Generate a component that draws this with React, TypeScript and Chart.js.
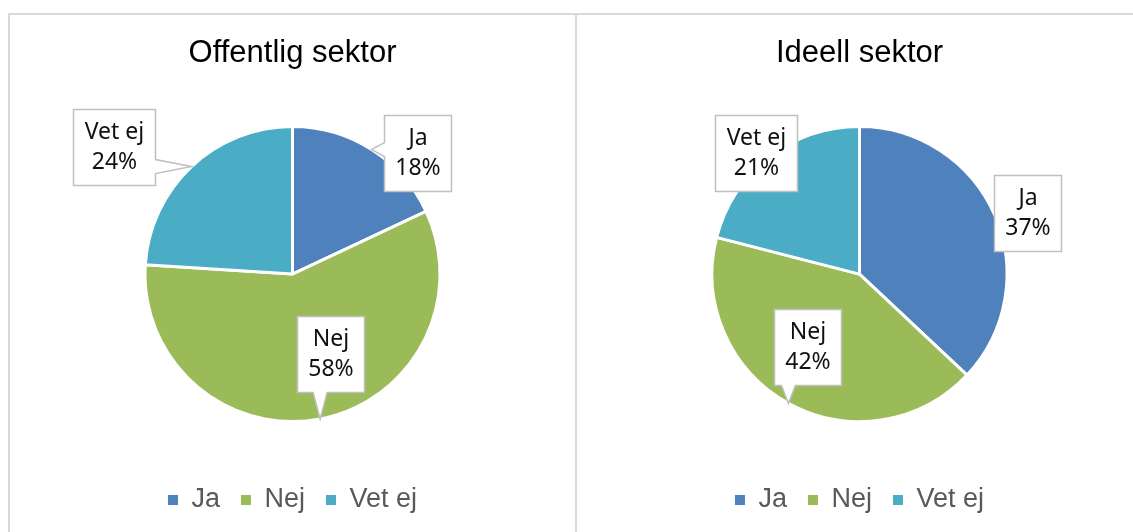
import React, { useEffect, useRef } from "react";
import { Chart, registerables } from "chart.js";

Chart.register(...registerables);

// ---- data ----
const categories = ["Ja", "Nej", "Vet ej"];
const offentligValues = [18, 58, 24];
const ideellValues = [37, 42, 21];
const offentligTitle = "Offentlig sektor";
const ideellTitle = "Ideell sektor";

// ---- styles / placement ----
const sliceColors = ["#4F81BD", "#9BBB59", "#4BACC6"];
// label box centres relative to the pie centre, in units of the pie radius
const offentligLabelOffsets = [
  [0.85, -0.82],
  [0.26, 0.54],
  [-1.21, -0.865],
];
const ideellLabelOffsets = [
  [1.14, -0.415],
  [-0.351, 0.497],
  [-0.705, -0.823],
];

const LABEL_FONT = '23px "Noto Sans"';

function clamp(v: number, lo: number, hi: number) {
  return Math.max(lo, Math.min(hi, v));
}

function calloutPath(
  ctx: CanvasRenderingContext2D,
  l: number,
  t: number,
  r: number,
  b: number,
  tx: number,
  ty: number
) {
  const half = 7;
  const margin = 4;
  const outL = l - tx;
  const outR = tx - r;
  const outT = t - ty;
  const outB = ty - b;
  const maxOut = Math.max(outL, outR, outT, outB);
  const show = maxOut > 6;
  ctx.beginPath();
  ctx.moveTo(l, t);
  if (show && maxOut === outT) {
    const c = clamp(tx, l + half + margin, r - half - margin);
    ctx.lineTo(c - half, t);
    ctx.lineTo(tx, ty);
    ctx.lineTo(c + half, t);
  }
  ctx.lineTo(r, t);
  if (show && maxOut === outR) {
    const c = clamp(ty, t + half + margin, b - half - margin);
    ctx.lineTo(r, c - half);
    ctx.lineTo(tx, ty);
    ctx.lineTo(r, c + half);
  }
  ctx.lineTo(r, b);
  if (show && maxOut === outB) {
    const c = clamp(tx, l + half + margin, r - half - margin);
    ctx.lineTo(c + half, b);
    ctx.lineTo(tx, ty);
    ctx.lineTo(c - half, b);
  }
  ctx.lineTo(l, b);
  if (show && maxOut === outL) {
    const c = clamp(ty, t + half + margin, b - half - margin);
    ctx.lineTo(l, c + half);
    ctx.lineTo(tx, ty);
    ctx.lineTo(l, c - half);
  }
  ctx.closePath();
}

const calloutPlugin = {
  id: "callouts",
  afterDatasetsDraw(chart: any, _args: any, opts: any) {
    const offsets: number[][] = opts.offsets || [];
    const meta = chart.getDatasetMeta(0);
    const values = chart.data.datasets[0].data as number[];
    const total = values.reduce((a, b) => a + b, 0);
    const ctx: CanvasRenderingContext2D = chart.ctx;
    ctx.save();
    ctx.font = LABEL_FONT;
    meta.data.forEach((arc: any, i: number) => {
      const { x, y, startAngle, endAngle, outerRadius } = arc.getProps(
        ["x", "y", "startAngle", "endAngle", "outerRadius"],
        true
      );
      const mid = (startAngle + endAngle) / 2;
      const tipX = x + Math.cos(mid) * outerRadius;
      const tipY = y + Math.sin(mid) * outerRadius;
      const lines = [
        String(chart.data.labels[i]),
        Math.round((values[i] / total) * 100) + "%",
      ];
      const tw = Math.max(...lines.map((s) => ctx.measureText(s).width));
      const w = Math.round(tw + 22);
      const lineH = 30;
      const h = lineH * lines.length + 16;
      const off = offsets[i] || [0, 0];
      const cx = x + off[0] * outerRadius;
      const cy = y + off[1] * outerRadius;
      const l = Math.round(cx - w / 2) + 0.5;
      const t = Math.round(cy - h / 2) + 0.5;
      calloutPath(ctx, l, t, l + w, t + h, tipX, tipY);
      ctx.fillStyle = "#ffffff";
      ctx.fill();
      ctx.strokeStyle = "#bfbfbf";
      ctx.lineWidth = 1.5;
      ctx.lineJoin = "miter";
      ctx.stroke();
      ctx.fillStyle = "#111111";
      ctx.textAlign = "center";
      ctx.textBaseline = "middle";
      lines.forEach((s, k) => {
        ctx.fillText(s, l + w / 2, t + h / 2 + (k - (lines.length - 1) / 2) * lineH);
      });
    });
    ctx.restore();
  },
};

const CANVAS_W = 565;
const CANVAS_H = 517;

function PiePanel(props: {
  title: string;
  values: number[];
  offsets: number[][];
  style: React.CSSProperties;
}) {
  const ref = useRef<HTMLCanvasElement | null>(null);
  useEffect(() => {
    if (!ref.current) return;
    const chart = new Chart(ref.current, {
      type: "pie",
      data: {
        labels: categories,
        datasets: [
          {
            data: props.values,
            backgroundColor: sliceColors,
            borderColor: "#ffffff",
            borderWidth: 3,
            radius: 147.5,
          } as any,
        ],
      },
      options: {
        responsive: false,
        animation: false,
        events: [],
        layout: { padding: { top: 0, bottom: 8.5, left: 0, right: 0 } },
        plugins: {
          title: {
            display: true,
            text: props.title,
            color: "#000000",
            font: {
              family: '"Liberation Sans", Arial, sans-serif',
              size: 31,
              weight: "normal",
              lineHeight: 1.2,
            },
            padding: { top: 19.5, bottom: 11 },
          },
          legend: {
            display: true,
            position: "bottom",
            labels: {
              color: "#595959",
              font: { family: '"Liberation Sans", Arial, sans-serif', size: 27 },
              boxWidth: 10,
              boxHeight: 10,
              padding: 21,
              generateLabels: (c: any) => {
                const base = (Chart as any).overrides.doughnut.plugins.legend.labels.generateLabels(c);
                return base.map((it: any) => ({ ...it, lineWidth: 0 }));
              },
            },
          },
          tooltip: { enabled: false },
          callouts: { offsets: props.offsets },
        } as any,
      },
      plugins: [calloutPlugin as any],
    });
    return () => chart.destroy();
  }, []);
  return (
    <div style={{ position: "absolute", boxSizing: "content-box", width: CANVAS_W, height: CANVAS_H, ...props.style }}>
      <canvas ref={ref} width={CANVAS_W} height={CANVAS_H} style={{ display: "block" }} />
    </div>
  );
}

export default function App() {
  return (
    <div
      style={{
        position: "fixed",
        left: 0,
        top: 0,
        width: 1133,
        height: 532,
        overflow: "hidden",
        background: "#ffffff",
      }}
    >
      <PiePanel
        title={offentligTitle}
        values={offentligValues}
        offsets={offentligLabelOffsets}
        style={{
          left: 8,
          top: 13,
          borderLeft: "2px solid #d9d9d9",
          borderTop: "2px solid #d9d9d9",
          borderRight: "2px solid #d9d9d9",
        }}
      />
      <PiePanel
        title={ideellTitle}
        values={ideellValues}
        offsets={ideellLabelOffsets}
        style={{
          left: 577,
          top: 13,
          borderTop: "2px solid #d9d9d9",
          borderRight: "2px solid #d9d9d9",
        }}
      />
    </div>
  );
}
